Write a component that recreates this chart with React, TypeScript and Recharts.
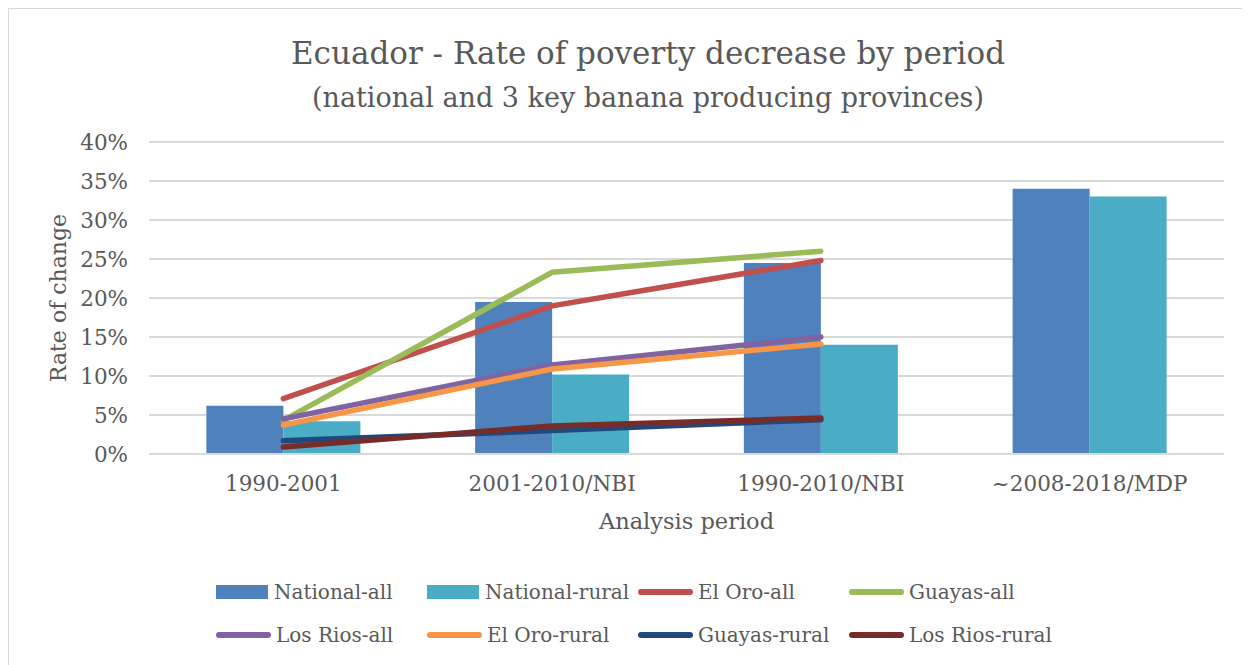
import { Bar, CartesianGrid, ComposedChart, Line, XAxis, YAxis } from 'recharts'

const periods = ['1990-2001', '2001-2010/NBI', '1990-2010/NBI', '~2008-2018/MDP']
const nationalAll = [6.2, 19.5, 24.5, 34]
const nationalRural = [4.2, 10.2, 14, 33]
const elOroAll = [7.1, 19, 24.8]
const guayasAll = [4.3, 23.3, 26]
const losRiosAll = [4.5, 11.4, 15]
const elOroRural = [3.7, 10.9, 14.1]
const guayasRural = [1.7, 3.0, 4.4]
const losRiosRural = [0.9, 3.6, 4.6]
const yTicks = [0, 5, 10, 15, 20, 25, 30, 35, 40]

const bars = [
  { key: 'nationalAll', name: 'National-all', color: '#4f81bd', values: nationalAll },
  { key: 'nationalRural', name: 'National-rural', color: '#4bacc6', values: nationalRural },
]
const lines = [
  { key: 'elOroAll', name: 'El Oro-all', color: '#c0504d', values: elOroAll },
  { key: 'guayasAll', name: 'Guayas-all', color: '#9bbb59', values: guayasAll },
  { key: 'losRiosAll', name: 'Los Rios-all', color: '#8064a2', values: losRiosAll },
  { key: 'elOroRural', name: 'El Oro-rural', color: '#f79646', values: elOroRural },
  { key: 'guayasRural', name: 'Guayas-rural', color: '#1f497d', values: guayasRural },
  { key: 'losRiosRural', name: 'Los Rios-rural', color: '#772c2a', values: losRiosRural },
]

const data = periods.map((period, i) => {
  const row: Record<string, string | number | undefined> = { period }
  ;[...bars, ...lines].forEach((s) => (row[s.key] = s.values[i]))
  return row
})

const font = '"DejaVu Serif", serif'
const grey = '#595959'

export default function App() {
  const legendItems = [...bars.map((b) => ({ ...b, kind: 'bar' })), ...lines.map((l) => ({ ...l, kind: 'line' }))]
  return (
    <div style={{ position: 'relative', width: 1234, height: 660, border: '1px solid #d9d9d9', background: '#fff', fontFamily: font, color: grey }}>
      {/* title block sits a little right of centre, like the original */}
      <div style={{ position: 'absolute', top: 23, left: 44, right: 0, textAlign: 'center', fontSize: 31, lineHeight: '42px' }}>
        Ecuador - Rate of poverty decrease by period
      </div>
      <div style={{ position: 'absolute', top: 72, left: 44, right: 0, textAlign: 'center', fontSize: 27, lineHeight: '34px' }}>
        (national and 3 key banana producing provinces)
      </div>
      <ComposedChart
        width={1234}
        height={655}
        data={data}
        margin={{ top: 133, right: 19, left: 0, bottom: 135 }}
        barCategoryGap="21.35%"
        barGap={0}
      >
        <CartesianGrid vertical={false} stroke="#d9d9d9" strokeWidth={2} />
        <XAxis
          dataKey="period"
          height={75}
          axisLine={{ stroke: '#d9d9d9', strokeWidth: 2 }}
          tickLine={false}
          tickMargin={16}
          tick={{ fill: grey, fontSize: 21.5, fontFamily: font }}
          label={{ value: 'Analysis period', position: 'insideBottom', offset: 0, fill: grey, fontSize: 22.5, fontFamily: font }}
        />
        <YAxis
          width={140}
          domain={[0, 40]}
          ticks={yTicks}
          axisLine={false}
          tickLine={false}
          tickMargin={15}
          tickFormatter={(v) => `${v}%`}
          tick={{ fill: grey, fontSize: 21.5, fontFamily: font }}
          label={{ value: 'Rate of change', angle: -90, position: 'center', dx: -21, fill: grey, fontSize: 22, fontFamily: font }}
        />
        {bars.map((b) => (
          <Bar key={b.key} dataKey={b.key} name={b.name} fill={b.color} isAnimationActive={false} />
        ))}
        {lines.map((l) => (
          <Line
            key={l.key}
            dataKey={l.key}
            name={l.name}
            type="linear"
            stroke={l.color}
            strokeWidth={5.5}
            strokeLinecap="round"
            dot={false}
            activeDot={false}
            isAnimationActive={false}
          />
        ))}
      </ComposedChart>
      <div style={{ position: 'absolute', left: 207, top: 570, width: 860, display: 'grid', gridTemplateColumns: '211px 211px 211px 211px', rowGap: 17 }}>
        {legendItems.map((item) => (
          <div key={item.key} style={{ display: 'flex', alignItems: 'center', fontSize: 20, lineHeight: '26px', whiteSpace: 'nowrap' }}>
            {item.kind === 'bar' ? (
              <span style={{ display: 'inline-block', width: 52, height: 14, background: item.color, marginRight: 6 }} />
            ) : (
              <span style={{ display: 'inline-block', width: 55, height: 6, borderRadius: 3, background: item.color, marginRight: 5 }} />
            )}
            {item.name}
          </div>
        ))}
      </div>
    </div>
  )
}
